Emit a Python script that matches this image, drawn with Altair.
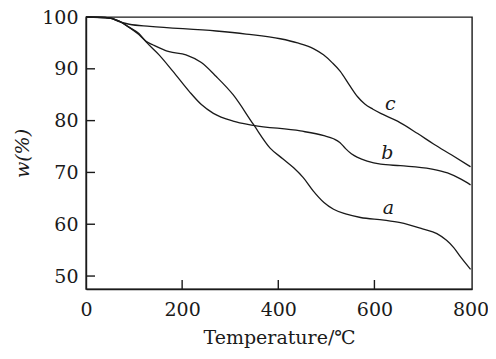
import altair as alt
import pandas as pd

# Curve a
a_T = [0, 40, 69, 90, 110, 125, 140, 173, 208, 240, 271, 306, 348, 383, 410, 432, 452, 473, 495, 515, 540, 571, 620, 654, 700, 730, 750, 765, 780, 800]
a_w = [100, 99.9, 99.2, 98, 96.6, 95.3, 94.6, 93.3, 92.7, 91.2, 88.5, 85, 79.3, 74.7, 72.6, 70.9, 69, 66.4, 64.2, 62.9, 62, 61.3, 60.8, 60.3, 59.1, 58.2, 56.9, 55.5, 53.6, 51.3]
# Curve b
b_T = [0, 40, 69, 90, 110, 125, 152, 181, 215, 240, 265, 306, 348, 446, 495, 515, 528, 540, 552, 565, 585, 613, 654, 717, 752, 780, 800]
b_w = [100, 99.9, 99.2, 98, 96.8, 95.2, 92.7, 89.5, 85.6, 83.1, 81.4, 79.9, 79.1, 78, 77.1, 76.5, 75.8, 74.6, 73.6, 72.9, 72.2, 71.6, 71.3, 70.7, 69.9, 68.7, 67.6]
# Curve c
c_T = [0, 50, 69, 90, 133, 271, 333, 404, 440, 473, 494, 512, 529, 547, 565, 580, 597, 613, 648, 690, 723, 760, 800]
c_w = [100, 99.8, 99.1, 98.6, 98.2, 97.3, 96.7, 95.8, 95, 93.9, 92.7, 91.2, 89.5, 87, 84.6, 83.2, 82.2, 81.4, 79.9, 77.5, 75.5, 73.4, 71.1]

label_names = ["a", "b", "c"]
label_T = [629, 627, 633]
label_w = [63.2, 73.8, 83.3]

x_ticks = [200, 400, 600]
y_ticks = [50, 60, 70, 80, 90]

rows = []
for name, T, w in (("a", a_T, a_w), ("b", b_T, b_w), ("c", c_T, c_w)):
    for t, v in zip(T, w):
        rows.append({"curve": name, "T": t, "w": v})
df = pd.DataFrame(rows)
labels = pd.DataFrame({"name": label_names, "T": label_T, "w": label_w})
xt = pd.DataFrame({"v": x_ticks})
yt = pd.DataFrame({"v": y_ticks})

FONT = "DejaVu Serif"
FS = 19
W, H = 386, 272
xs = alt.Scale(domain=[0, 803], nice=False, zero=False)
ys = alt.Scale(domain=[47.5, 100], nice=False, zero=False)

lines = alt.Chart(df).mark_line(color="#1a1a1a", strokeWidth=1.3, interpolate="monotone").encode(
    x=alt.X("T:Q", scale=xs, title="Temperature/℃",
            axis=alt.Axis(values=[0, 200, 400, 600, 800], tickSize=0, labelPadding=11,
                          labelFont=FONT, labelFontSize=FS, labelColor="#1a1a1a",
                          titleFont=FONT, titleFontSize=FS, titleFontWeight="normal",
                          titleColor="#1a1a1a", titlePadding=9, grid=False,
                          domainColor="#1a1a1a", domainWidth=1.4, labelFlush=False)),
    y=alt.Y("w:Q", scale=ys, title="w(%)",
            axis=alt.Axis(values=[50, 60, 70, 80, 90, 100], tickSize=0, labelPadding=8,
                          labelFont=FONT, labelFontSize=FS, labelColor="#1a1a1a",
                          titleFont=FONT, titleFontSize=FS, titleFontWeight="normal",
                          titleFontStyle="italic", titleColor="#1a1a1a", titlePadding=9,
                          grid=False, domainColor="#1a1a1a", domainWidth=1.4, labelFlush=False)),
    detail="curve:N",
)

txt = alt.Chart(labels).mark_text(font=FONT, fontSize=FS, fontStyle="italic", color="#1a1a1a").encode(
    x=alt.X("T:Q", scale=xs), y=alt.Y("w:Q", scale=ys), text="name:N")

xtick = alt.Chart(xt).mark_rule(color="#1a1a1a", strokeWidth=1.4).encode(
    x=alt.X("v:Q", scale=xs), y=alt.value(H), y2=alt.value(H - 9))
ytick = alt.Chart(yt).mark_rule(color="#1a1a1a", strokeWidth=1.4).encode(
    y=alt.Y("v:Q", scale=ys), x=alt.value(0), x2=alt.value(9))

chart = alt.layer(lines, txt, xtick, ytick).properties(
    width=W, height=H, autosize="none",
    padding={"left": 78, "top": 9, "right": 16, "bottom": 62},
    background="white",
).configure_view(stroke="#1a1a1a", strokeWidth=1.4)

chart.save("out.html", embed_options={"renderer": "svg", "actions": False})
